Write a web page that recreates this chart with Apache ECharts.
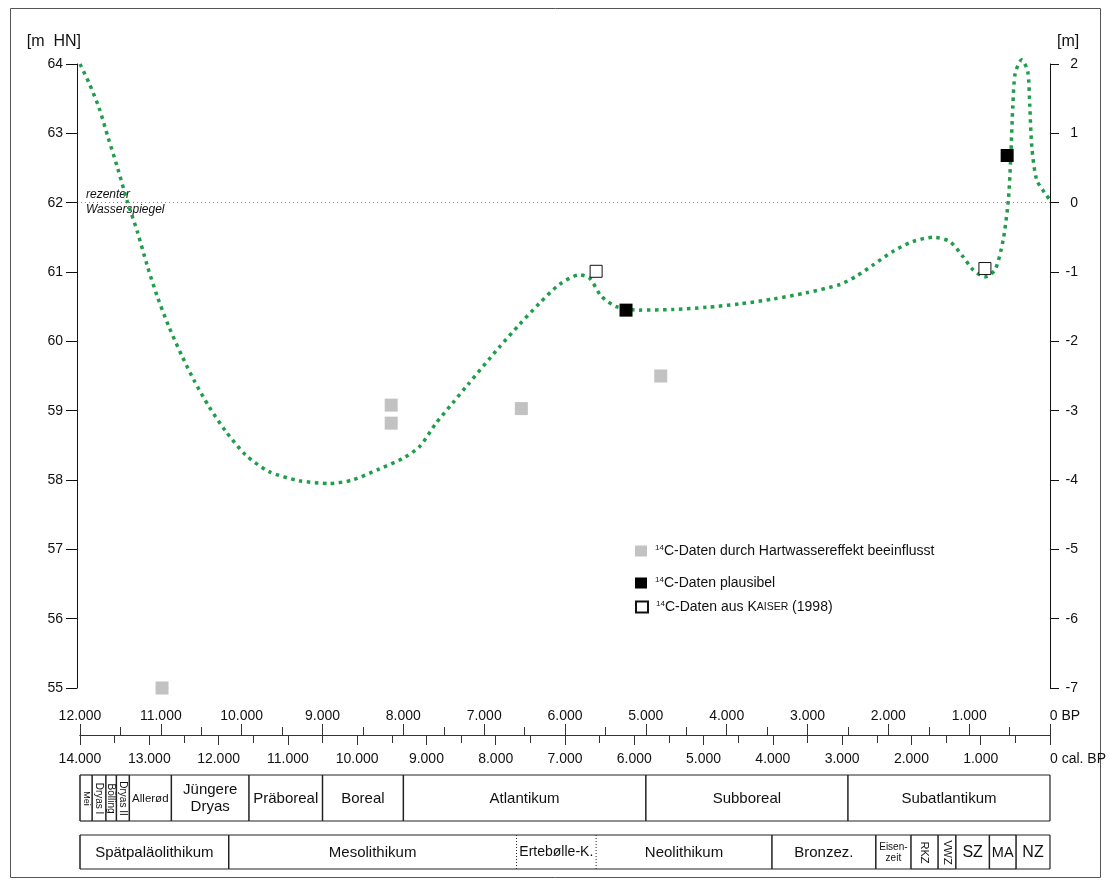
<!DOCTYPE html>
<html>
<head>
<meta charset="utf-8">
<script src="https://cdn.jsdelivr.net/npm/echarts@6/dist/echarts.min.js"></script>
<style>
  html, body { margin: 0; padding: 0; background: #fff; }
  #chart { width: 1111px; height: 888px; }
</style>
</head>
<body>
<div id="chart"></div>
<script>
// Reconstructed lake level curve: age in years BP, level in m HN
const curveBP = [12000, 11890, 11765, 11650, 11540, 11415, 11290, 11165, 11045, 10900,
  10735, 10590, 10405, 10195, 9950, 9660, 9290, 8915, 8630, 8295,
  8010, 7800, 7595, 7390, 7205, 6810, 6565, 6315, 6070, 5820,
  5695, 5550, 5365, 5080, 4665, 4250, 3840, 3425, 3015, 2600,
  2395, 2190, 1940, 1695, 1445, 1240, 1075, 950, 805, 680,
  580, 515, 485, 460, 430, 350, 275, 250, 225, 165, 40, 0];
const curveLevel = [64.0, 63.73, 63.37, 62.93, 62.52, 62.02, 61.58, 61.08, 60.65, 60.21,
  59.78, 59.44, 59.06, 58.70, 58.36, 58.12, 57.99, 57.95, 58.00, 58.16,
  58.31, 58.48, 58.82, 59.11, 59.37, 59.92, 60.24, 60.55, 60.82, 60.96,
  60.91, 60.65, 60.50, 60.45, 60.46, 60.49, 60.54, 60.61, 60.70, 60.82,
  60.94, 61.10, 61.30, 61.44, 61.50, 61.44, 61.22, 61.03, 60.93, 61.03,
  61.46, 62.04, 62.67, 63.39, 63.87, 64.06, 63.89, 63.39, 62.81, 62.33, 62.10, 62.04];

// 14C dates
const hardwaterBP = [10985, 8150, 8150, 6540, 4815];
const hardwaterLevel = [55.0, 59.08, 58.82, 59.03, 59.50];
const plausibleBP = [5245, 530];
const plausibleLevel = [60.45, 62.68];
const kaiserBP = [5615, 805];
const kaiserLevel = [61.01, 61.05];

const presentLevel = 62;

// Chronozones (boundaries in years BP)
const zoneNames = ['Mei', 'Dryas I', 'Bölling', 'Dryas II', 'Allerød', 'Jüngere\nDryas',
  'Präboreal', 'Boreal', 'Atlantikum', 'Subboreal', 'Subatlantikum'];
const zoneBounds = [12000, 11850, 11680, 11550, 11390, 10870, 9910, 9000, 8000, 5000, 2500, 0];

// Cultural periods (boundaries in years BP)
const cultureNames = ['Spätpaläolithikum', 'Mesolithikum', 'Ertebølle-K.', 'Neolithikum',
  'Bronzez.', 'Eisen-\nzeit', 'RKZ', 'VWZ', 'SZ', 'MA', 'NZ'];
const cultureBounds = [12000, 10160, 6600, 5615, 3440, 2155, 1720, 1385, 1165, 750, 420, 0];

const legendNames = [
  '14C-Daten durch Hartwassereffekt beeinflusst',
  '14C-Daten plausibel',
  '14C-Daten aus Kaiser (1998)'
];
const legendRich = {
  '14C-Daten durch Hartwassereffekt beeinflusst': '{sup|14}C-Daten durch Hartwassereffekt beeinflusst',
  '14C-Daten plausibel': '{sup|14}C-Daten plausibel',
  '14C-Daten aus Kaiser (1998)': '{sup|14}C-Daten aus K{sc|AISER} (1998)'
};

const FONT = '"Liberation Sans", Arial, sans-serif';

// label styling for the period rows
const labelSize = {
  'Mei': 9, 'Dryas I': 10, 'Bölling': 10, 'Dryas II': 10, 'Allerød': 11.5,
  'Ertebølle-K.': 14, 'Eisen-\nzeit': 10, 'RKZ': 11, 'VWZ': 11, 'SZ': 16, 'MA': 14.5, 'NZ': 16
};
const verticalLabels = new Set(['Mei', 'Dryas I', 'Bölling', 'Dryas II', 'RKZ', 'VWZ']);
const dottedLeftEdge = new Set(['Ertebølle-K.', 'Neolithikum']);

function pairs(xs, ys) { return xs.map((x, i) => [x, ys[i]]); }
function spans(bounds) { return bounds.slice(0, -1).map((b, i) => [b, bounds[i + 1]]); }

function periodRenderer(names) {
  return function (params, api) {
    const cs = params.coordSys;
    const xa = api.coord([api.value(0), 0])[0];
    const xb = api.coord([api.value(1), 0])[0];
    const top = cs.y, bot = cs.y + cs.height;
    const name = names[params.dataIndex];
    const stroke = '#222';
    const dotted = dottedLeftEdge.has(name);
    const children = [
      { type: 'line', shape: { x1: xa, y1: top, x2: xb, y2: top }, style: { stroke, lineWidth: 1.2 } },
      { type: 'line', shape: { x1: xa, y1: bot, x2: xb, y2: bot }, style: { stroke, lineWidth: 1.2 } },
      { type: 'line', shape: { x1: xa, y1: top, x2: xa, y2: bot },
        style: { stroke, lineWidth: dotted ? 1 : 1.5, lineDash: dotted ? [1, 2] : null } }
    ];
    if (api.value(1) === 0) {
      children.push({ type: 'line', shape: { x1: xb, y1: top, x2: xb, y2: bot }, style: { stroke, lineWidth: 1.2 } });
    }
    const size = labelSize[name] || 15;
    children.push({
      type: 'text',
      x: (xa + xb) / 2,
      y: (top + bot) / 2 + 0.5,
      rotation: verticalLabels.has(name) ? -Math.PI / 2 : 0,
      style: {
        text: name, fill: '#111', fontSize: size, fontFamily: FONT,
        align: 'center', verticalAlign: 'middle', lineHeight: Math.round(size * 1.12)
      }
    });
    return { type: 'group', children };
  };
}

function fmtThousands(v) { return (v / 1000).toFixed(3); }

const chart = echarts.init(document.getElementById('chart'), null, { renderer: 'canvas' });

const legendBase = {
  orient: 'vertical', left: 635, padding: 0, itemWidth: 12, itemHeight: 11, icon: 'rect',
  selectedMode: false,
  formatter: n => legendRich[n],
  textStyle: {
    fontSize: 14, color: '#111', fontFamily: FONT, padding: [0, 0, 0, 3],
    rich: {
      sup: { fontSize: 8, verticalAlign: 'top', color: '#111', fontFamily: FONT, padding: [0, 0, 6, 0] },
      sc: { fontSize: 10.5, color: '#111', fontFamily: FONT }
    }
  }
};

chart.setOption({
  backgroundColor: '#fff',
  animation: false,
  textStyle: { fontFamily: FONT },
  grid: [
    { left: 80, right: 61, top: 64, height: 624 },
    { left: 80, right: 61, top: 775, height: 46 },
    { left: 80, right: 61, top: 835, height: 34 }
  ],
  xAxis: [
    { // radiocarbon years
      type: 'value', gridIndex: 0, min: 0, max: 12000, interval: 1000, inverse: true,
      position: 'bottom', offset: 47,
      axisLine: { show: true, onZero: false, lineStyle: { color: '#333', width: 1 } },
      axisTick: { show: true, inside: true, length: 11, lineStyle: { color: '#333' } },
      minorTick: { show: true, splitNumber: 2, length: 8, lineStyle: { color: '#333' } },
      splitLine: { show: false },
      axisLabel: {
        inside: true, margin: 12, fontSize: 14, color: '#111',
        formatter: v => v === 0 ? '{z|0 BP}' : fmtThousands(v),
        rich: { z: { fontSize: 14, color: '#111', padding: [0, 0, 0, 30] } }
      }
    },
    { // calibrated years
      type: 'value', gridIndex: 0, min: 0, max: 14000, interval: 1000, inverse: true,
      position: 'bottom', offset: 47,
      axisLine: { show: true, onZero: false, lineStyle: { color: '#333', width: 1 } },
      axisTick: { show: true, inside: false, length: 10, lineStyle: { color: '#333' } },
      minorTick: { show: true, splitNumber: 2, length: 8, lineStyle: { color: '#333' } },
      splitLine: { show: false },
      axisLabel: {
        margin: 17, fontSize: 14, color: '#111',
        formatter: v => v === 0 ? '{z|0 cal. BP}' : fmtThousands(v),
        rich: { z: { fontSize: 14, color: '#111', padding: [0, 0, 0, 56] } }
      }
    },
    { type: 'value', gridIndex: 1, min: 0, max: 12000, inverse: true, show: false },
    { type: 'value', gridIndex: 2, min: 0, max: 12000, inverse: true, show: false }
  ],
  yAxis: [
    {
      type: 'value', gridIndex: 0, min: 55, max: 64, interval: 1, position: 'left', offset: 3,
      name: '[m  HN]', nameLocation: 'end', nameGap: 14,
      nameTextStyle: { fontSize: 16, color: '#111', align: 'right', padding: [0, -4, 0, 0] },
      axisLine: { show: true, onZero: false, lineStyle: { color: '#111', width: 1 } },
      axisTick: { show: true, length: 11, lineStyle: { color: '#111' } },
      splitLine: { show: false },
      axisLabel: { fontSize: 14, color: '#111', margin: 14 }
    },
    {
      type: 'value', gridIndex: 0, min: -7, max: 2, interval: 1, position: 'right',
      name: '[m]', nameLocation: 'end', nameGap: 14,
      nameTextStyle: { fontSize: 16, color: '#111', align: 'left', padding: [0, 0, 0, 7] },
      axisLine: { show: true, onZero: false, lineStyle: { color: '#111', width: 1 } },
      axisTick: { show: true, length: 9, lineStyle: { color: '#111' } },
      splitLine: { show: false },
      axisLabel: { fontSize: 14, color: '#111', margin: 28, align: 'right' }
    },
    { type: 'value', gridIndex: 1, min: 0, max: 1, show: false },
    { type: 'value', gridIndex: 2, min: 0, max: 1, show: false }
  ],
  legend: [
    Object.assign({}, legendBase, { top: 544, data: [legendNames[0]] }),
    Object.assign({}, legendBase, { top: 576, data: [legendNames[1]] }),
    Object.assign({}, legendBase, { top: 600, data: [legendNames[2]] })
  ],
  graphic: [
    {
      type: 'rect', silent: true, z: -10,
      shape: { x: 10.5, y: 8.5, width: 1090, height: 869 },
      style: { fill: 'none', stroke: '#555', lineWidth: 1 }
    },
    {
      type: 'text', left: 86, top: 187, silent: true,
      style: {
        text: 'rezenter\nWasserspiegel', fill: '#111', fontSize: 12, fontStyle: 'italic',
        fontFamily: FONT, lineHeight: 15
      }
    }
  ],
  series: [
    {
      name: 'Seespiegel', type: 'line', xAxisIndex: 0, yAxisIndex: 0,
      data: pairs(curveBP, curveLevel), smooth: 0.25, symbol: 'none', clip: false,
      lineStyle: { color: '#1e9e4a', width: 3.5, type: [3.5, 4.5], cap: 'butt' },
      silent: true, z: 2,
      markLine: {
        silent: true, symbol: 'none', label: { show: false },
        lineStyle: { color: '#888', width: 1, type: [1, 3] },
        data: [{ yAxis: presentLevel }]
      }
    },
    {
      name: legendNames[0], type: 'scatter', xAxisIndex: 0, yAxisIndex: 0,
      data: pairs(hardwaterBP, hardwaterLevel), symbol: 'rect', symbolSize: 13, clip: false,
      itemStyle: { color: '#c2c2c2', opacity: 1 }, z: 3
    },
    {
      name: legendNames[1], type: 'scatter', xAxisIndex: 0, yAxisIndex: 0,
      data: pairs(plausibleBP, plausibleLevel), symbol: 'rect', symbolSize: 13, clip: false,
      itemStyle: { color: '#000', opacity: 1 }, z: 3
    },
    {
      name: legendNames[2], type: 'scatter', xAxisIndex: 0, yAxisIndex: 0,
      data: pairs(kaiserBP, kaiserLevel), symbol: 'rect', symbolSize: 12, clip: false,
      itemStyle: { color: '#fff', borderColor: '#111', borderWidth: 1, opacity: 1 }, z: 3
    },
    {
      name: 'Chronozonen', type: 'custom', xAxisIndex: 2, yAxisIndex: 2,
      data: spans(zoneBounds), renderItem: periodRenderer(zoneNames), clip: false, silent: true,
      encode: { x: [0, 1] }
    },
    {
      name: 'Kulturperioden', type: 'custom', xAxisIndex: 3, yAxisIndex: 3,
      data: spans(cultureBounds), renderItem: periodRenderer(cultureNames), clip: false, silent: true,
      encode: { x: [0, 1] }
    }
  ]
});
</script>
</body>
</html>
